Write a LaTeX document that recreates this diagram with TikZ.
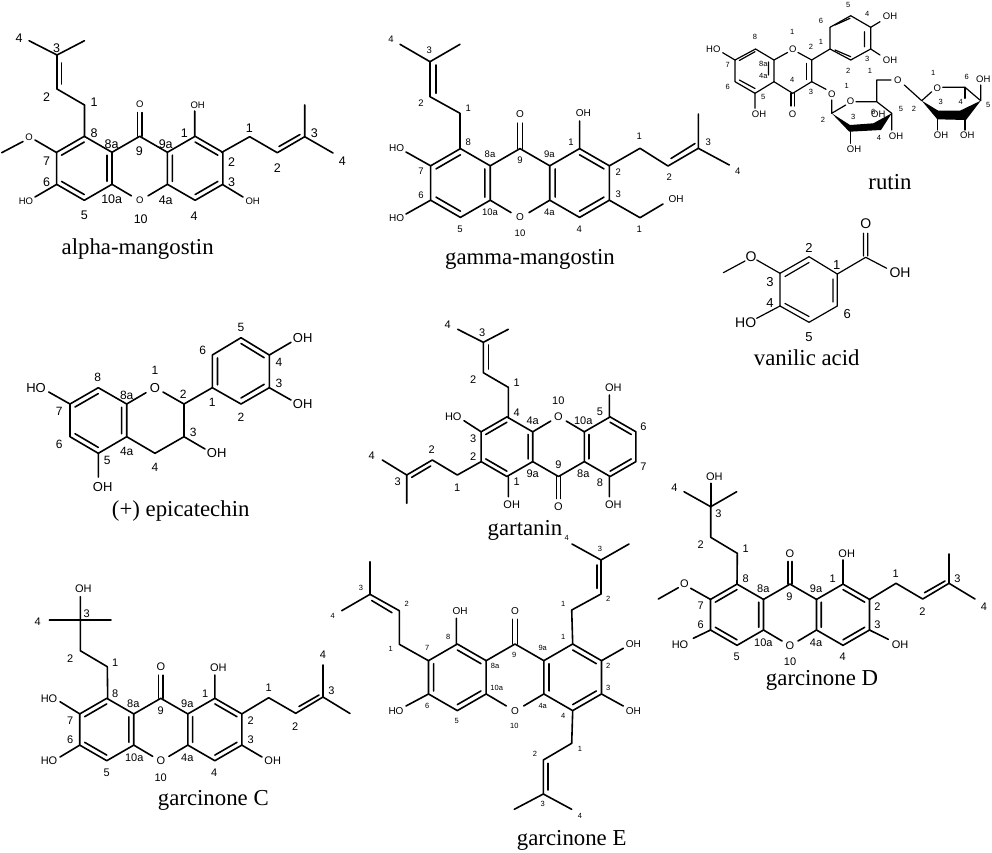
\documentclass[tikz,border=0pt]{standalone}
\usepackage{fontspec}
\setmainfont{Liberation Serif}
\setsansfont{Liberation Sans}
\tikzset{
  bond/.style={line width=1.6pt,line join=round,line cap=round},
  thin bond/.style={line width=1.2pt,line join=round,line cap=round},
  lab/.style={font=\sffamily\fontsize{#1}{#1}\selectfont,inner sep=0pt},
  het/.style={lab=10},
  title/.style={font=\fontsize{22.8}{24}\selectfont,inner sep=0pt}
}
% xanthone core, unit = one bond; the optional argument is the inner lines of the left ring
\newcommand{\xanthone}[2][(-1.732,-.82) -- (-2.442,-.41) (-2.442,.41) -- (-1.732,.82) (-1.022,.41) -- (-1.022,-.41)]{%
  \begin{scope}[#2]
    \draw[bond] (.26,.86) -- (.866,.5) -- (.866,-.5) -- (0,-1) -- (-.866,-.5) -- (-.866,.5) -- (-.26,.86);
    \draw[bond] (-.866,-.5) -- (-1.732,-1) -- (-2.598,-.5) -- (-2.598,.5) -- (-1.732,1) -- (-.866,.5);
    \draw[bond] (.866,-.5) -- (1.732,-1) -- (2.598,-.5) -- (2.598,.5) -- (1.732,1) -- (.866,.5);
    \draw[bond] #1;
    \draw[bond] (1.732,-.82) -- (2.442,-.41) (2.442,.41) -- (1.732,.82) (1.022,.41) -- (1.022,-.41);
    \draw[bond] (-.07,-1) -- (-.07,-1.74) (.07,-1) -- (.07,-1.74);
    \node[het] at (0,1) {O};
    \node[het] at (0,-2) {O};
  \end{scope}}
\begin{document}
\begin{tikzpicture}[x=1pt,y=-1pt]
  \useasboundingbox (0,0) rectangle (992,852);

  % alpha-mangostin
  \begin{scope}[every node/.style={lab=12.5},het/.style={lab=9.5}]
    \xanthone{shift={(139.7,168.3)},scale=32}
    \draw[bond] (84.5,136.5) -- (84.5,105) -- (57,89) -- (57,55) -- (29,40.7) (57,55) -- (84.5,40.7);
    \draw[bond] (61.5,63) -- (61.5,84);
    \draw[bond] (221.5,152.5) -- (249.7,136.7) -- (277.3,152.7) -- (304.7,136.7) -- (304.7,105) (304.7,136.7) -- (333,153);
    \draw[bond] (279,146.5) -- (300,134.5);
    \draw[bond] (1.7,152.7) -- (23,141.5) (35,140) -- (56.5,152.5);
    \draw[bond] (56.5,184.5) -- (35,197) (222.5,184.5) -- (243,197) (194.7,136) -- (194.7,111);
    \node at (19,37.7) {4}; \node at (56.7,47.7) {3}; \node at (46.7,97.3) {2}; \node at (94,101.7) {1};
    \node at (94,133.3) {8}; \node at (111.7,144) {8a}; \node at (139.3,150.7) {9}; \node at (165.7,144) {9a};
    \node at (184.3,133.3) {1}; \node at (249.3,127.7) {1}; \node at (314.3,132.7) {3}; \node at (342.3,161) {4};
    \node at (277.3,167.7) {2}; \node at (231.7,161.7) {2}; \node at (231.7,181.7) {3}; \node at (194,215.7) {4};
    \node at (165.7,200) {4a}; \node at (111.7,199.3) {10a}; \node at (140.7,219) {10}; \node at (84.3,215) {5};
    \node at (46.7,181.7) {6}; \node at (46.7,161) {7};
    \node[het] at (197.7,105) {OH}; \node[het] at (252.7,201) {OH}; \node[het] at (26,201) {HO}; \node[het] at (29,137.3) {O};
  \end{scope}
  \node[title] (nalpha) at (137.7,249) {alpha-mangostin};

  % gamma-mangostin
  \begin{scope}[every node/.style={lab=9.5},het/.style={lab=10}]
    \xanthone{shift={(520,183)},scale=34.4}
    \draw[bond] (460,148.6) -- (460,113.3) -- (430,96.7) -- (430,61.7) -- (400,44.3) (430,61.7) -- (460,44.3);
    \draw[bond] (435.7,65) -- (435.7,93.3);
    \draw[bond] (609.4,165.8) -- (640,148.3) -- (668,166) -- (698.3,148.3) -- (698.3,114) (698.3,148.3) -- (729.3,165);
    \draw[bond] (671,158.5) -- (695,143.5);
    \draw[bond] (609.4,200.2) -- (640,217.7) -- (663,204);
    \draw[bond] (430.6,165.8) -- (406,152) (430.6,200.2) -- (406,214) (579.6,148.6) -- (579.6,121);
    \node at (391,39) {4}; \node at (429.3,50) {3}; \node at (421,102.7) {2}; \node at (468.3,108.3) {1};
    \node at (421,171) {7}; \node at (421,195) {6}; \node at (468.3,142.7) {8}; \node at (460,229.3) {5};
    \node at (490,154.3) {8a}; \node at (520,160) {9}; \node at (549.3,154.3) {9a}; \node at (571,142.7) {1};
    \node at (490,212.3) {10a}; \node at (549.3,212.3) {4a}; \node at (520,233.3) {10}; \node at (579.3,229.3) {4};
    \node at (639.3,136.7) {1}; \node at (618.3,171.7) {2}; \node at (618.3,194.3) {3}; \node at (639.3,229.3) {1};
    \node at (669.3,176.7) {2}; \node at (708.3,142.7) {3}; \node at (737.7,171.7) {4};
    \node[het] at (396.7,148.3) {HO}; \node[het] at (396.7,217.7) {HO}; \node[het] at (583.3,113.3) {OH}; \node[het] at (676,199) {OH};
  \end{scope}
  \node[title] (ngamma) at (530,259) {gamma-mangostin};

  % rutin
  \begin{scope}[every node/.style={lab=7.5},het/.style={lab=9.5}]
    \draw[thin bond] (755.5,49) -- (735,60) -- (735,81.7) -- (755,93.3) -- (774,81.7) -- (774,60) -- cycle;
    \draw[thin bond] (739.3,60.5) -- (755,51.7) (739.3,80) -- (755,88.5) (768.5,62) -- (768.5,75);
    \draw[thin bond] (774,60) -- (787.5,52.5) (798,52.5) -- (811.7,60) -- (811.7,81.7) -- (792.7,93.3) -- (774,81.7);
    \draw[thin bond] (806.7,63.5) -- (806.7,79.5) (791,93.3) -- (791,106) (794.5,93.3) -- (794.5,106);
    \draw[thin bond] (811.7,60) -- (830,49) -- (830,27.3) -- (850.7,15.7) -- (870.7,27.3) -- (870.7,49) -- (850.7,60) -- (830,49);
    \draw[thin bond] (835,25) -- (850,18.3) (864.5,31.7) -- (864.5,46.7) (835,50) -- (850.7,56.7);
    \draw[thin bond] (735,60) -- (722.7,52.7) (755,93.3) -- (755,108.3) (870.7,27.3) -- (880,21.7) (870.7,49) -- (880,55);
    \draw[thin bond] (811.7,81.7) -- (826,89.3) (831.7,100) -- (831.7,113.3) -- (845.7,105);
    \draw[thin bond] (856,101.7) -- (876.7,101.7) -- (876.7,80) -- (891,80) (876.7,101.7) -- (891.7,113.3) -- (891.7,130);
    \draw[thin bond] (904.3,85) -- (921.7,100.7) -- (931.7,91.7) (942.7,87.3) -- (965,87.3) -- (980.7,100.7) -- (980.7,85);
    \draw[thin bond] (965,87.3) -- (965,98.3) (850.7,131.7) -- (850.7,143.3) (937.3,119.3) -- (937.3,130) (965,120) -- (965,130);
    \fill (831.7,113.3) -- (850,125) -- (873.3,123.3) -- (891.7,113.3) -- (881,130) -- (849.3,131.7) -- cycle;
    \fill (921.7,100.7) -- (938.3,110.7) -- (960,110.7) -- (980.7,100.7) -- (966,120) -- (937.3,119.3) -- cycle;
    \node at (755,36.7) {8}; \node at (792.3,32.3) {1}; \node at (811,47.3) {2}; \node at (821,42.3) {1};
    \node at (821,20.7) {6}; \node at (727.7,65) {7}; \node at (763.3,64.3) {8a}; \node at (763.3,76) {4a};
    \node at (727.7,86.7) {6}; \node at (763.3,96.7) {5}; \node at (792.3,80) {4}; \node at (811,92.3) {3};
    \node at (848.3,5) {5}; \node at (867.3,14.3) {4}; \node at (867.3,59.3) {3}; \node at (848.3,70.7) {2};
    \node at (870,70.7) {1}; \node at (846.7,85.7) {1}; \node at (823,120) {2}; \node at (853.3,117.3) {3};
    \node at (879,138.3) {4}; \node at (901,109.3) {5}; \node at (873.3,111.7) {6}; \node at (933.3,72.7) {1};
    \node at (966.7,76.7) {6}; \node at (914,109.3) {2}; \node at (940.7,102.3) {3}; \node at (960.7,102.3) {4};
    \node at (988.3,105) {5};
    \node[het] at (713.3,49) {HO}; \node[het] at (759,114.3) {OH}; \node[het] at (792.5,114.3) {O};
    \node[het] at (792.7,49.3) {O}; \node[het] at (890,16.7) {OH}; \node[het] at (890,60) {OH};
    \node[het] at (831.7,94) {O}; \node[het] at (850.5,101.7) {O}; \node[het] at (897.7,80) {O}; \node[het] at (937.3,88.3) {O};
    \node[het] at (854,149.3) {OH}; \node[het] at (896,136.7) {OH}; \node[het] at (878.3,114.3) {OH};
    \node[het] at (941,135.7) {OH}; \node[het] at (967.3,135.7) {OH}; \node[het] at (983.3,79) {OH};
  \end{scope}
  \node[title] (nrutin) at (890,182.5) {rutin};

  % vanilic acid
  \begin{scope}[every node/.style={lab=13},het/.style={lab=14}]
    \draw[thin bond] (837.3,274) -- (809,256.7) -- (780,273.3) -- (780,306) -- (809,322.3) -- (837.3,306) -- cycle;
    \draw[thin bond] (809,262.5) -- (785,276.5) (833,279) -- (833,302) (785,303.5) -- (809,316.5);
    \draw[thin bond] (837.3,274) -- (865.7,257.3) -- (886.7,268.3) (863.5,256) -- (863.5,233.3) (867.7,256) -- (867.7,233.3);
    \draw[thin bond] (723.3,272.7) -- (745,261) (756.7,260) -- (780,273.3) (780,306) -- (756.7,318.3);
    \node at (809,248.3) {2}; \node at (836.7,265) {1}; \node at (770,281.7) {3}; \node at (770,303.3) {4};
    \node at (847.3,314) {6}; \node at (809,336.7) {5};
    \node[het] at (865.7,223.3) {O}; \node[het] at (900,273) {OH}; \node[het] at (751,256.7) {O}; \node[het] at (745.7,322.7) {HO};
  \end{scope}
  \node[title] (nvanilic) at (806.7,357.5) {vanilic acid};

  % epicatechin
  \begin{scope}[every node/.style={lab=12},het/.style={lab=13}]
    \draw[bond] (98.3,387.7) -- (70,404) -- (70,436.7) -- (98.3,453.3) -- (126.7,436.7) -- (126.7,404) -- cycle;
    \draw[bond] (75,407) -- (98.3,393.6) (75,433.7) -- (98.3,447.4) (121.6,433.7) -- (121.6,407.3);
    \draw[bond] (126.7,404) -- (146,392.7) (163,392) -- (184,404) -- (184,436.7) -- (155,453.3) -- (126.7,436.7);
    \draw[bond] (184,404) -- (212.3,387.7);
    \draw[bond] (212.3,387.7) -- (212.3,355) -- (241,337.7) -- (269.3,355) -- (269.3,387.7) -- (241,404) -- cycle;
    \draw[bond] (217.5,358) -- (217.5,384.8) (241,343.5) -- (264.2,357.7) (264.2,384.3) -- (241,398);
    \draw[bond] (70,404) -- (48.7,392) (98.3,453.3) -- (98.3,477) (184,436.7) -- (205,449) (269.3,355) -- (291,342.3) (269.3,387.7) -- (291,400);
    \node at (155,370.7) {1}; \node at (183.3,394.3) {2}; \node at (97.7,377.7) {8}; \node at (126.7,395) {8a};
    \node at (59.3,411.7) {7}; \node at (59.3,444.3) {6}; \node at (107.3,460.7) {5}; \node at (126.7,451) {4a};
    \node at (155,467.7) {4}; \node at (193.3,432.7) {3}; \node at (212.3,402.3) {1}; \node at (241,417.7) {2};
    \node at (279,383.3) {3}; \node at (279,362.7) {4}; \node at (241,327.7) {5}; \node at (202.7,350.7) {6};
    \node[het] at (155,387.7) {O}; \node[het] at (36,387.7) {HO}; \node[het] at (102.7,486.7) {OH};
    \node[het] at (216.7,453.3) {OH}; \node[het] at (302.7,338) {OH}; \node[het] at (302.7,404) {OH};
  \end{scope}
  \node[title] (nepi) at (180.7,511) {(+) epicatechin};

  % gartanin
  \begin{scope}[every node/.style={lab=11},het/.style={lab=11}]
    \xanthone{shift={(558.5,446.7)},scale=29.8,yscale=-1}
    \draw[bond] (508.3,416.7) -- (508.3,387.3) -- (483.3,372.7) -- (483.3,342.3) -- (457.7,329.3) (483.3,342.3) -- (508.3,329.3);
    \draw[bond] (488.3,345) -- (488.3,369);
    \draw[bond] (481,461.7) -- (457.3,475) -- (432.3,460) -- (406.7,475) -- (382.3,460) (406.7,475) -- (406.7,503.3);
    \draw[bond] (411.7,477.3) -- (430.7,466);
    \draw[bond] (481,431.7) -- (464,420.7) (508.3,476.7) -- (508.3,496.7) (609.3,416.7) -- (609.3,395) (609.3,476.7) -- (609.3,496.7);
    \node at (447.7,324.3) {4}; \node at (482.3,332.7) {3}; \node at (473.3,380) {2}; \node at (516.7,382.7) {1};
    \node at (558.3,400.7) {10}; \node at (516.7,412.3) {4}; \node at (532.7,421) {4a}; \node at (583.3,421) {10a};
    \node at (600,411.7) {5}; \node at (643.3,426.7) {6}; \node at (643.3,466.7) {7}; \node at (600,482.3) {8};
    \node at (583.3,473.3) {8a}; \node at (558.3,464.3) {9}; \node at (532.7,473.3) {9a}; \node at (516.7,481.7) {1};
    \node at (473.3,438.3) {3}; \node at (473.3,456.7) {2}; \node at (431.7,450) {2}; \node at (371.7,456) {4};
    \node at (397.7,481.7) {3}; \node at (457.3,487.3) {1};
    \node[het] at (453.3,416.7) {HO}; \node[het] at (511.7,504.3) {OH}; \node[het] at (613.3,387.3) {OH}; \node[het] at (613.3,504.3) {OH};
  \end{scope}
  \node[title] (ngartanin) at (525,530.5) {gartanin};

  % garcinone D
  \begin{scope}[every node/.style={lab=11},het/.style={lab=11}]
    \xanthone{shift={(790,614.7)},scale=30.6}
    \draw[bond] (737,584) -- (737.3,553.3) -- (710.7,537.3) -- (710.7,506.7) -- (684,491.7) (710.7,506.7) -- (736.7,491.7);
    \draw[bond] (710.7,506.7) -- (710.7,483.3);
    \draw[bond] (869.5,599.4) -- (896,583.3) -- (922.7,599) -- (949,583.3) -- (949,554) (949,583.3) -- (975,599);
    \draw[bond] (924.5,592.7) -- (945,581);
    \draw[bond] (658.3,599) -- (678.3,587.7) (690.7,588.3) -- (710.5,599.4);
    \draw[bond] (710.5,630) -- (693.3,638.3) (869.5,630) -- (888.3,639.3) (843,584) -- (843,560);
    \node at (674.3,487.3) {4}; \node at (718.3,514) {3}; \node at (700.7,545) {2}; \node at (745.7,549) {1};
    \node at (745.7,578.3) {8}; \node at (763.3,588.3) {8a}; \node at (789.3,596.7) {9}; \node at (816,588.3) {9a};
    \node at (832.7,578.3) {1}; \node at (895.7,573.3) {1}; \node at (957.3,578.3) {3}; \node at (984,606.7) {4};
    \node at (922.3,611.7) {2}; \node at (877.3,606.7) {2}; \node at (877.3,625) {3}; \node at (700.7,606) {7};
    \node at (700.7,625) {6}; \node at (736.7,656.7) {5}; \node at (763.3,642.7) {10a}; \node at (816,642.7) {4a};
    \node at (790,661.7) {10}; \node at (842.7,656.7) {4};
    \node[het] at (714.3,476.7) {OH}; \node[het] at (684.3,584) {O}; \node[het] at (680,645) {HO};
    \node[het] at (900,645) {OH}; \node[het] at (846.7,553.3) {OH};
  \end{scope}
  \node[title] (ngarD) at (822,680) {garcinone D};

  % garcinone C
  \begin{scope}[every node/.style={lab=11},het/.style={lab=11}]
    \xanthone{shift={(160.8,729.5)},scale=31.2}
    \draw[bond] (107.7,698.3) -- (107.3,666.7) -- (80.3,650.7) -- (80.3,620) -- (49.3,620) (80.3,620) -- (111,620) (80.3,620) -- (80.3,596.7);
    \draw[bond] (241.8,713.9) -- (268.7,697.7) -- (295.7,713.3) -- (323,697) -- (323,665) (323,697) -- (350,713.5);
    \draw[bond] (299,706.5) -- (319,695);
    \draw[bond] (79.8,713.9) -- (60,701.7) (79.8,745.1) -- (60,757) (241.8,745.1) -- (262,757) (214.8,698.3) -- (214.8,675);
    \node at (37.7,621.7) {4}; \node at (86.7,613.3) {3}; \node at (70.3,658.3) {2}; \node at (115.3,662.7) {1};
    \node at (115.3,693.3) {8}; \node at (133.3,703.3) {8a}; \node at (160.7,711) {9}; \node at (187.3,703.3) {9a};
    \node at (205.3,693.3) {1}; \node at (268.7,687.3) {1}; \node at (250.7,720.7) {2}; \node at (250.7,740) {3};
    \node at (214.3,772.7) {4}; \node at (187.3,757.7) {4a}; \node at (160.7,777.3) {10}; \node at (134.3,757.7) {10a};
    \node at (106.7,772.3) {5}; \node at (70.3,740) {6}; \node at (70.3,720.7) {7}; \node at (295.3,726.7) {2};
    \node at (331.5,691) {3}; \node at (323,655) {4};
    \node[het] at (83.3,589) {OH}; \node[het] at (49,698.3) {HO}; \node[het] at (218.3,667.3) {OH};
    \node[het] at (272.7,760.7) {OH}; \node[het] at (49,760.7) {HO};
  \end{scope}
  \node[title] (ngarC) at (213.3,800) {garcinone C};

  % garcinone E
  \begin{scope}[every node/.style={lab=7.5},het/.style={lab=10}]
    \xanthone[(-2.442,-.41) -- (-2.442,.41) (-1.732,-.82) -- (-1.022,-.41) (-1.022,.41) -- (-1.732,.82)]{shift={(515,677.3)},scale=33.3}
    \draw[bond] (428.5,660.7) -- (399.3,644.3) -- (399.3,610.7) -- (370,594.3) -- (370,561.7) (370,594.3) -- (341.7,610.7);
    \draw[bond] (392,612.7) -- (371.7,600.5);
    \draw[bond] (572.7,644) -- (571.7,610) -- (601,594) -- (601,560) -- (572,544) (601,560) -- (629,544);
    \draw[bond] (596.7,565) -- (596.7,588.3);
    \draw[bond] (572.7,710.6) -- (571.7,743.3) -- (543.3,760) -- (543.3,794) -- (514.3,809.3) (543.3,794) -- (571.7,809.3);
    \draw[bond] (547.7,763.3) -- (547.7,790);
    \draw[bond] (456.3,644) -- (456.3,618.3) (428.5,694) -- (406,706) (601.5,660.7) -- (623.3,648.3) (601.5,694) -- (623.3,706);
    \node at (566.7,538.3) {4}; \node at (600,549) {3}; \node at (608.3,599) {2}; \node at (563.3,604.3) {1};
    \node at (361,587.7) {3}; \node at (406.7,604.3) {2}; \node at (332.7,616) {4}; \node at (390.7,649) {1};
    \node at (427.3,648.3) {7}; \node at (448.3,637.3) {8}; \node at (427.3,705.7) {6}; \node at (456.7,721) {5};
    \node at (495,666) {8a}; \node at (496.7,687.7) {10a}; \node at (514.3,655) {9}; \node at (542.7,648.3) {9a};
    \node at (563.3,637.3) {1}; \node at (608.3,666) {2}; \node at (608.3,687.7) {3}; \node at (542.7,705.7) {4a};
    \node at (514.3,725.7) {10}; \node at (563.3,715.7) {4}; \node at (580,749) {1}; \node at (535,754.3) {2};
    \node at (542.7,804.3) {3}; \node at (580,815.7) {4};
    \node[het] at (460,610.7) {OH}; \node[het] at (396,711) {HO}; \node[het] at (633.3,644) {OH}; \node[het] at (633.3,710.7) {OH};
  \end{scope}
  \node[title] (ngarE) at (571.7,840) {garcinone E};
\end{tikzpicture}
\end{document}
